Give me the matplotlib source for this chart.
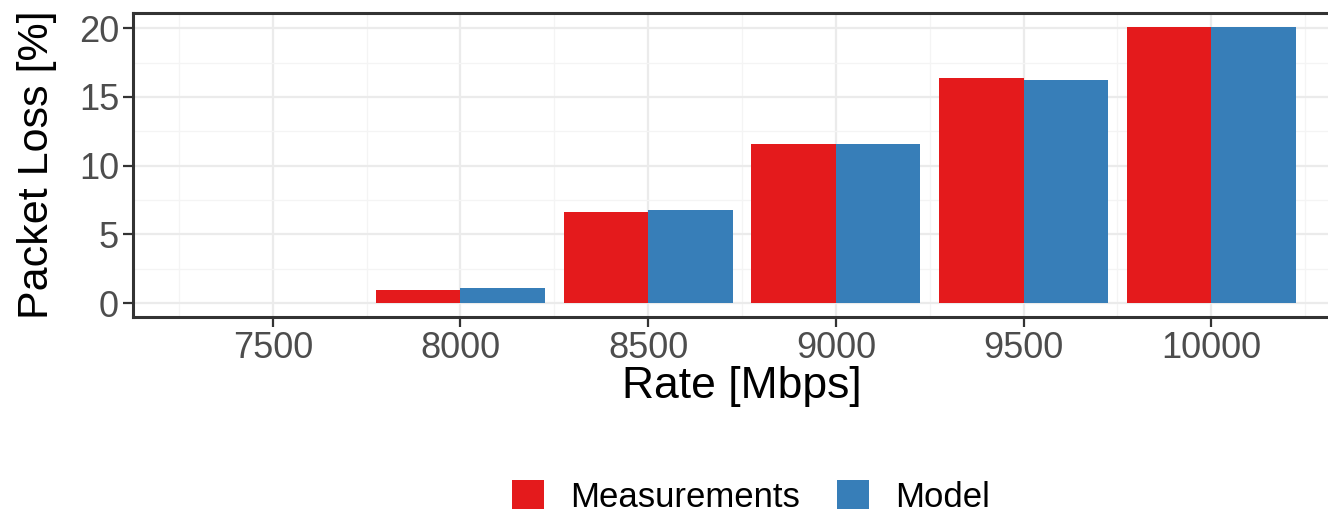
import matplotlib.pyplot as plt
from matplotlib.patches import Patch
from matplotlib.ticker import MultipleLocator

plt.rcParams['font.family'] = ['Liberation Sans', 'DejaVu Sans']

rates = [7500, 8000, 8500, 9000, 9500, 10000]
measurements = [0.0, 0.97, 6.6, 11.55, 16.36, 20.09]
model = [0.0, 1.09, 6.77, 11.55, 16.24, 20.09]
series_names = ['Measurements', 'Model']
colors = ['#E41A1C', '#377EB8']

bar_w = 225  # dodge width per bar (0.9 * 500 / 2)

fig = plt.figure(figsize=(13.28, 5.14), dpi=100)
# panel runs past the right edge of the image, like the cropped original
ax = fig.add_axes([133/1328, 197/514, (1351-133)/1328, 304/514])

ax.bar([r - bar_w/2 for r in rates], measurements, width=bar_w, color=colors[0], zorder=3)
ax.bar([r + bar_w/2 for r in rates], model, width=bar_w, color=colors[1], zorder=3)

ax.set_xlim(7127.5, 10372.5)
ax.set_ylim(-1.005, 21.1)
ax.set_xticks(rates)
ax.set_yticks([0, 5, 10, 15, 20])
ax.xaxis.set_minor_locator(MultipleLocator(250))
ax.yaxis.set_minor_locator(MultipleLocator(2.5))

ax.grid(which='major', color='#EBEBEB', lw=1.6, zorder=0)
ax.grid(which='minor', color='#F4F4F4', lw=0.9, zorder=0)
ax.tick_params(which='minor', length=0)
ax.tick_params(which='major', length=7, width=1.6, color='#333333',
               labelsize=26, labelcolor='#4D4D4D', pad=3)

for s in ax.spines.values():
    s.set_color('#333333')
    s.set_linewidth(2.2)

ax.set_xlabel('Rate [Mbps]', fontsize=32, va='center')
ax.xaxis.set_label_coords(0.5, -0.228)
ax.set_ylabel('Packet Loss [%]', fontsize=31, va='center')
ax.yaxis.set_label_coords(-0.079, 0.5)

handles = [Patch(facecolor=c, edgecolor='none') for c in colors]
fig.legend(handles, series_names, loc='center', bbox_to_anchor=(751/1328, 1 - 497/514),
           ncol=2, frameon=False, fontsize=25, handlelength=0.92, handleheight=0.92,
           handletextpad=0.75, columnspacing=1.05)

fig.savefig('out.png', dpi=100)
